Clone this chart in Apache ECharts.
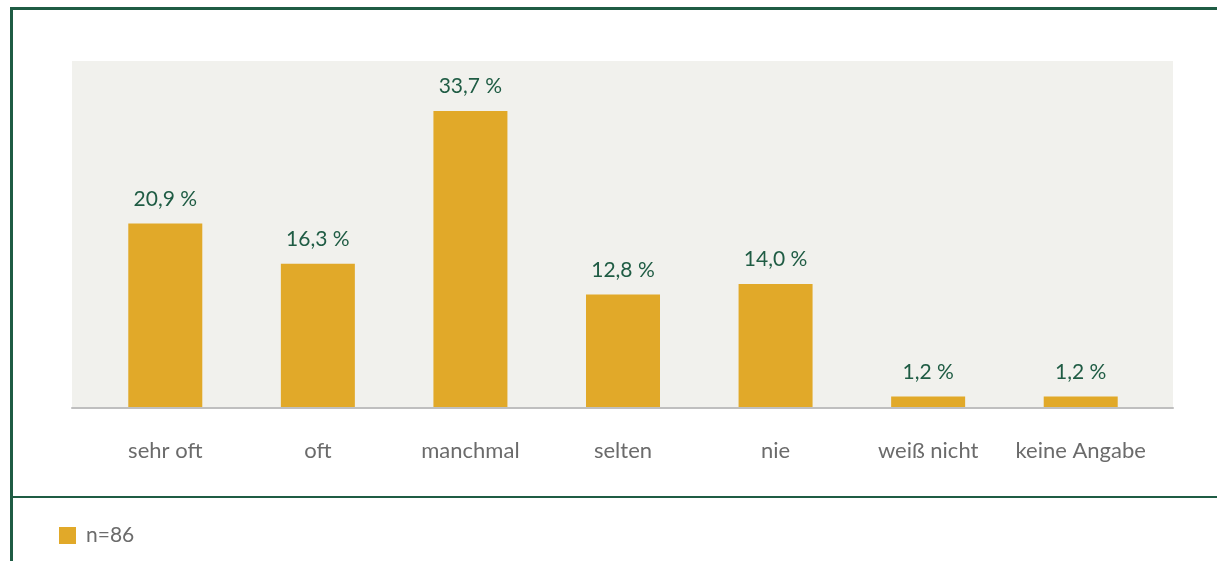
<!DOCTYPE html>
<html>
<head>
<meta charset="utf-8">
<script src="https://cdn.jsdelivr.net/npm/echarts@6/dist/echarts.min.js"></script>
<style>
  html, body { margin: 0; padding: 0; background: #fff; }
  #chart { width: 1217px; height: 561px; }
</style>
</head>
<body>
<div id="chart"></div>
<script>
// Daten
var categories = ['sehr oft', 'oft', 'manchmal', 'selten', 'nie', 'weiß nicht', 'keine Angabe'];
var values = [20.9, 16.3, 33.7, 12.8, 14.0, 1.2, 1.2];
var seriesName = 'n=86';

var green = '#1f5c44';
var gold = '#e1a929';
var font = 'Lato, "Open Sans", sans-serif';

var myChart = echarts.init(document.getElementById('chart'));

myChart.setOption({
  animation: false,
  textStyle: { fontFamily: font },
  grid: [
    // eigentliche Balken
    { left: 89, right: 60, top: 61, bottom: 154 },
    // grauer Hintergrund der Zeichenfläche, etwas breiter
    { left: 72, right: 44, top: 61, bottom: 153, show: true, backgroundColor: '#f1f1ed', borderWidth: 0 }
  ],
  xAxis: [
    {
      type: 'category',
      gridIndex: 0,
      data: categories,
      axisLine: { show: false },
      axisTick: { show: false },
      axisLabel: { color: '#6b6b6b', fontSize: 22, margin: 33, fontFamily: font, interval: 0 }
    },
    {
      type: 'category',
      gridIndex: 1,
      data: [''],
      axisLine: { show: true, lineStyle: { color: '#bfbfbf', width: 2 } },
      axisTick: { show: false },
      axisLabel: { show: false }
    }
  ],
  yAxis: [
    { type: 'value', gridIndex: 0, min: 0, max: 39.4, show: false, splitLine: { show: false } },
    { type: 'value', gridIndex: 1, show: false, splitLine: { show: false } }
  ],
  legend: {
    left: 59,
    top: 525,
    padding: 0,
    itemWidth: 17,
    itemHeight: 17,
    icon: 'rect',
    data: [seriesName],
    textStyle: { color: '#6b6b6b', fontSize: 21, fontFamily: font, padding: [0, 0, 0, 5] }
  },
  series: [{
    name: seriesName,
    type: 'bar',
    xAxisIndex: 0,
    yAxisIndex: 0,
    barWidth: 74,
    data: values,
    itemStyle: { color: gold },
    label: {
      show: true,
      position: 'top',
      distance: 14,
      color: green,
      fontSize: 21,
      fontFamily: font,
      formatter: function (p) { return p.value.toFixed(1).replace('.', ',') + ' %'; }
    }
  }],
  graphic: [
    // Rahmen
    { type: 'rect', left: 10, top: 7, shape: { width: 1207, height: 3 }, style: { fill: green } },
    { type: 'rect', left: 10, top: 7, shape: { width: 3, height: 554 }, style: { fill: green } },
    { type: 'rect', left: 10, top: 496, shape: { width: 1207, height: 2 }, style: { fill: green } }
  ]
});
</script>
</body>
</html>
